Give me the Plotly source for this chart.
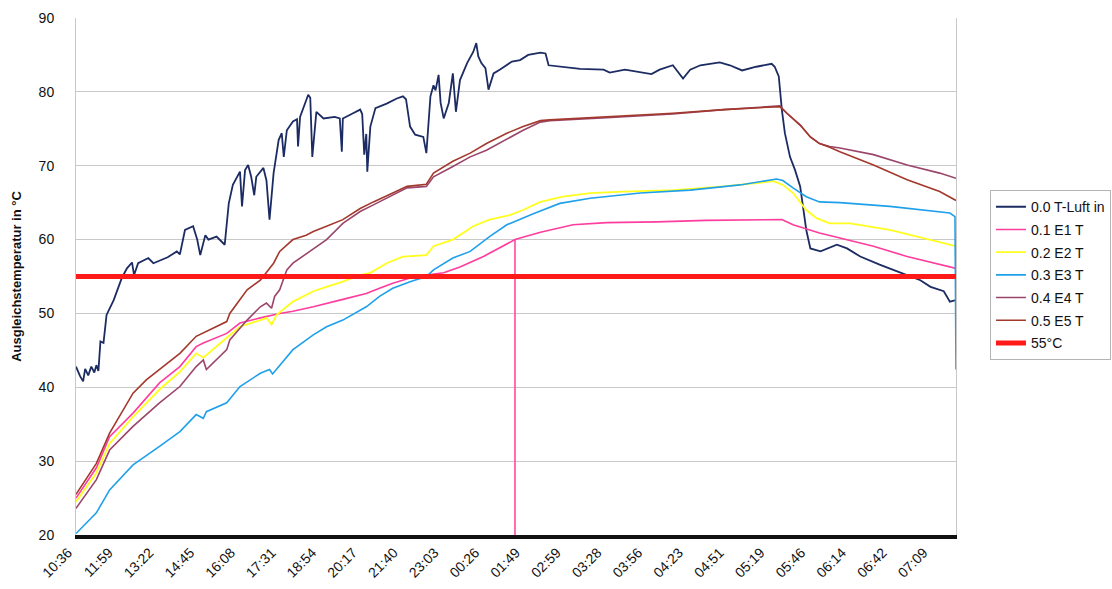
import plotly.graph_objects as go

# Zeitachse: Beschriftung alle 40 Messpunkte
zeit_labels = ["10:36", "11:59", "13:22", "14:45", "16:08", "17:31", "18:54", "20:17",
               "21:40", "23:03", "00:26", "01:49", "02:59", "03:28", "03:56", "04:23",
               "04:51", "05:19", "05:46", "06:14", "06:42", "07:09"]
punkte_pro_label = 40
letzter_punkt = 864

# 0.0 T-Luft in
luft_idx = [0, 4, 7, 9, 12, 15, 18, 20, 22, 24, 27, 30, 37, 45, 50, 55, 57, 61, 71, 76,
            83, 90, 99, 102, 107, 115, 119, 122, 127, 130, 138, 146, 150, 154, 161, 163,
            166, 169, 172, 175, 177, 184, 187, 190, 194, 199, 202, 204, 207, 213, 217,
            218, 220, 228, 230, 232, 236, 243, 254, 259, 261, 262, 272, 279, 281, 283,
            285, 286, 289, 294, 305, 315, 321, 324, 328, 333, 341, 344, 348, 351, 353,
            356, 358, 361, 366, 370, 373, 377, 384, 390, 393, 395, 398, 402, 405, 410,
            416, 428, 436, 444, 456, 461, 464, 478, 495, 518, 524, 539, 554, 565, 573,
            586, 596, 603, 613, 632, 642, 654, 668, 683, 686, 690, 693, 696, 701, 706,
            711, 714, 717, 721, 731, 747, 757, 770, 789, 812, 829, 839, 852, 858, 864]
luft = [42.8, 41.5, 40.8, 42.5, 41.6, 42.8, 42.0, 43.0, 42.2, 46.2, 46.0, 49.8, 51.8,
        54.8, 56.1, 56.9, 55.2, 56.8, 57.5, 56.8, 57.2, 57.6, 58.4, 58.0, 61.3, 61.8,
        60.0, 57.9, 60.6, 60.0, 60.4, 59.3, 64.9, 67.4, 69.2, 64.5, 69.4, 70.1, 68.5,
        66.0, 68.5, 69.7, 68.0, 62.7, 69.0, 73.5, 74.4, 71.2, 74.8, 76.0, 76.3, 72.6,
        76.6, 79.6, 79.2, 71.2, 77.3, 76.4, 76.6, 76.4, 71.9, 76.4, 77.1, 77.6, 77.0,
        71.5, 74.3, 69.2, 75.3, 77.8, 78.4, 79.1, 79.4, 79.0, 75.3, 74.2, 73.9, 71.7,
        79.4, 80.9, 80.2, 82.3, 78.5, 76.4, 78.5, 82.5, 77.3, 81.6, 83.9, 85.4, 86.6,
        84.8, 83.9, 83.2, 80.3, 82.5, 83.0, 84.1, 84.3, 85.0, 85.3, 85.2, 83.6, 83.4,
        83.1, 83.0, 82.6, 83.0, 82.7, 82.4, 83.0, 83.6, 81.8, 83.0, 83.6, 84.0, 83.6,
        82.9, 83.4, 83.8, 83.4, 82.1, 77.6, 74.4, 71.2, 69.4, 67.2, 64.5, 61.3, 58.8,
        58.4, 59.3, 58.8, 57.7, 56.6, 55.4, 54.5, 53.6, 53.0, 51.6, 51.8]

# 0.1 E1 T
e1_idx = [0, 20, 33, 56, 82, 102, 118, 125, 148, 161, 181, 200, 213, 233, 262, 285,
          298, 311, 328, 344, 361, 377, 400, 431, 456, 488, 521, 570, 619, 685, 693,
          704, 730, 750, 783, 816, 848, 864]
e1 = [25.0, 29.1, 33.3, 36.5, 40.6, 42.8, 45.5, 46.0, 47.3, 48.7, 49.4, 50.0, 50.3,
      50.9, 51.9, 52.7, 53.4, 54.1, 54.8, 55.2, 55.5, 56.3, 57.7, 60.0, 61.0, 62.0,
      62.3, 62.4, 62.6, 62.7, 62.7, 62.0, 60.9, 60.2, 59.1, 57.7, 56.6, 56.1]

# 0.2 E2 T
e2_idx = [0, 20, 33, 56, 82, 102, 118, 125, 148, 161, 181, 187, 192, 197, 213, 233,
          246, 262, 279, 289, 305, 321, 344, 351, 370, 390, 406, 426, 439, 456, 478,
          505, 537, 586, 636, 685, 694, 704, 717, 727, 740, 760, 799, 832, 864]
e2 = [24.5, 28.4, 32.4, 36.0, 39.7, 42.1, 44.6, 44.0, 46.7, 48.2, 49.1, 49.4, 48.5,
      49.8, 51.6, 53.0, 53.6, 54.3, 55.2, 55.5, 56.8, 57.7, 57.9, 59.1, 60.0, 61.8,
      62.7, 63.3, 64.0, 65.1, 65.8, 66.3, 66.5, 66.7, 67.2, 67.9, 67.4, 66.3, 64.0,
      62.9, 62.2, 62.2, 61.3, 60.2, 59.1]

# 0.3 E3 T
e3_idx = [0, 20, 33, 56, 82, 102, 118, 125, 128, 148, 161, 181, 190, 193, 213, 233,
          246, 262, 285, 298, 311, 328, 344, 351, 370, 387, 406, 423, 449, 475, 505,
          554, 603, 652, 688, 694, 704, 717, 730, 750, 799, 848, 858, 863, 864]
e3 = [20.2, 23.0, 26.1, 29.5, 32.0, 34.0, 36.3, 35.8, 36.7, 37.9, 40.1, 41.9, 42.4,
      41.8, 45.1, 47.1, 48.2, 49.1, 50.9, 52.3, 53.4, 54.3, 55.0, 55.9, 57.5, 58.4,
      60.4, 62.0, 63.5, 64.9, 65.6, 66.3, 66.7, 67.4, 68.2, 68.0, 67.0, 65.8, 65.1,
      65.0, 64.5, 63.8, 63.6, 63.1, 42.4]

# 0.4 E4 T
e4_idx = [0, 20, 33, 56, 82, 102, 118, 125, 128, 148, 151, 168, 181, 187, 192, 195,
          200, 207, 213, 233, 246, 262, 279, 292, 311, 325, 344, 351, 370, 387, 403,
          423, 439, 456, 465, 521, 586, 636, 685, 691, 698, 711, 721, 730, 740, 750,
          783, 816, 848, 864]
e4 = [23.6, 27.5, 31.5, 34.7, 37.9, 40.1, 42.8, 43.7, 42.4, 45.1, 46.4, 49.1, 50.9,
      51.4, 50.7, 52.3, 53.2, 55.9, 56.8, 58.8, 60.0, 62.2, 63.8, 64.7, 66.0, 67.0,
      67.2, 68.5, 69.9, 71.2, 72.1, 73.6, 74.8, 75.9, 76.1, 76.5, 77.0, 77.6, 78.1,
      78.1, 77.1, 75.5, 73.9, 73.0, 72.6, 72.4, 71.5, 70.1, 69.0, 68.3]

# 0.5 E5 T
e5_idx = [0, 20, 33, 56, 69, 82, 102, 118, 132, 148, 151, 161, 168, 181, 187, 194,
          200, 213, 226, 233, 246, 262, 279, 292, 311, 325, 344, 351, 370, 387, 403,
          423, 439, 456, 465, 521, 586, 636, 685, 691, 698, 711, 721, 730, 740, 750,
          783, 816, 848, 858, 864]
e5 = [25.5, 29.7, 33.8, 39.2, 41.0, 42.4, 44.6, 46.9, 47.8, 48.9, 50.0, 51.8, 53.2,
      54.5, 55.5, 56.8, 58.4, 60.0, 60.6, 61.1, 61.8, 62.7, 64.2, 65.1, 66.3, 67.2,
      67.5, 69.0, 70.6, 71.7, 73.0, 74.4, 75.3, 76.1, 76.2, 76.6, 77.1, 77.6, 78.0,
      78.0, 77.1, 75.5, 73.9, 73.0, 72.5, 71.9, 70.1, 68.1, 66.5, 65.8, 65.3]

# Grenzwert und Zeitpunkt, an dem E1 die 60 °C erreicht
grenze_55 = 55
e1_60_idx = 431
e1_60_wert = 60.0
y_min, y_max = 20, 90

serien = [
    ("0.0 T-Luft in", luft_idx, luft, "#1c2c63", 1.8),
    ("0.1 E1 T", e1_idx, e1, "#ff3d9e", 1.6),
    ("0.2 E2 T", e2_idx, e2, "#ffff1e", 1.8),
    ("0.3 E3 T", e3_idx, e3, "#1fa0ea", 1.6),
    ("0.4 E4 T", e4_idx, e4, "#9a456a", 1.6),
    ("0.5 E5 T", e5_idx, e5, "#a3382c", 1.6),
]

fig = go.Figure()
for name, xs, ys, color, width in serien:
    fig.add_trace(go.Scatter(x=xs, y=ys, mode="lines", name=name, legendgroup=name,
                             line=dict(color=color, width=width)))

# senkrechte Markierung bei 60 °C (E1)
fig.add_trace(go.Scatter(x=[e1_60_idx, e1_60_idx], y=[y_min, e1_60_wert], mode="lines",
                         showlegend=False, line=dict(color="#ff3d9e", width=1.5)))

fig.add_trace(go.Scatter(x=[0, letzter_punkt], y=[grenze_55, grenze_55], mode="lines",
                         name="55°C", legendgroup="55",
                         line=dict(color="#ff1a1a", width=5)))

tickvals = [i * punkte_pro_label for i in range(len(zeit_labels))]

fig.update_layout(
    width=1112, height=589,
    margin=dict(l=76, r=156, t=18, b=54, autoexpand=False),
    paper_bgcolor="white", plot_bgcolor="white",
    font=dict(family="Liberation Sans, Arial, sans-serif", color="#111111", size=13),
    legend=dict(x=1.0386, xanchor="left", y=0.667, yanchor="top",
                bordercolor="#b4b4b4", borderwidth=1, bgcolor="white",
                font=dict(size=14), tracegroupgap=1.5, traceorder="grouped"),
    xaxis=dict(range=[0, letzter_punkt], tickmode="array", tickvals=tickvals,
               ticktext=zeit_labels, tickangle=-45, showgrid=False, zeroline=False,
               showline=True, linecolor="#111111", linewidth=4, automargin=False,
               ticks="", ticklabelstandoff=0, ticklabelshift=-8,
               tickfont=dict(size=14)),
    yaxis=dict(range=[y_min, y_max], dtick=10, showgrid=True, gridcolor="#c8c8c8",
               gridwidth=1, zeroline=False, showline=True, mirror=True,
               linecolor="#c8c8c8", linewidth=1, ticks="", ticklabelstandoff=18,
               automargin=False, tickfont=dict(size=14),
               title=dict(text="<b>Ausgleichstemperatur in °C</b>", font=dict(size=13),
                          standoff=14)),
)

fig.write_html("out.html")
